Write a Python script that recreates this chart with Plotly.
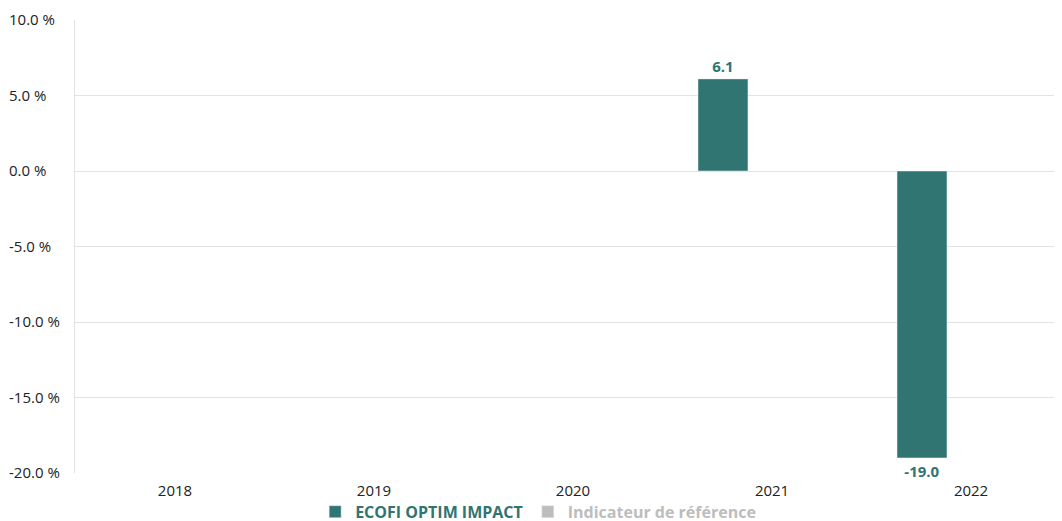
import plotly.graph_objects as go

years = ["2018", "2019", "2020", "2021", "2022"]
fund_values = [None, None, None, 6.1, -19.0]
benchmark_values = [None, None, None, None, None]
y_ticks = [-20, -15, -10, -5, 0, 5, 10]
y_tick_labels = [f"{v:.1f} %" for v in y_ticks]

TEAL = "#317572"
GREY = "#bdbdbd"

fig = go.Figure()
fig.add_trace(go.Bar(
    x=years, y=fund_values,
    name=f"<span style='color:{TEAL}'>ECOFI OPTIM IMPACT</span>",
    marker_color=TEAL, width=0.251, offset=-0.372,
    texttemplate="%{y:.1f}", textposition="outside",
    textfont=dict(family="Open Sans", size=15, color=TEAL, weight="bold"),
    cliponaxis=False,
))
fig.add_trace(go.Bar(
    x=years, y=benchmark_values,
    name=f"<span style='color:{GREY}'>Indicateur de référence</span>",
    marker_color=GREY, width=0.251, offset=-0.12,
))

# page body has an 8px default margin, so figure is sized to fit the window
fig.update_layout(
    width=1054, height=513,
    margin=dict(l=67, r=0, t=12, b=48, autoexpand=False),
    plot_bgcolor="white", paper_bgcolor="white",
    font=dict(family="Open Sans", size=15, color="#222222"),
    showlegend=True,
    legend=dict(
        orientation="h", xref="container", yref="container",
        x=0.503, xanchor="center", y=0.018, yanchor="middle",
        font=dict(family="Open Sans", size=16, weight="bold"),
        bgcolor="rgba(0,0,0,0)",
        itemclick=False, traceorder="normal",
        itemwidth=30, tracegroupgap=0,
    ),
)
fig.update_xaxes(
    type="category", range=[-0.5025, 4.457], automargin=False,
    showgrid=False, showline=False, ticks="", ticklabelstandoff=7,
    tickfont=dict(size=15, color="#222222"),
)
fig.update_yaxes(
    range=[-20, 10], tickvals=y_ticks, ticktext=y_tick_labels, automargin=False,
    showgrid=True, gridcolor="#e2e2e2", gridwidth=1,
    zeroline=True, zerolinecolor="#e2e2e2", zerolinewidth=1,
    showline=True, linecolor="#e2e2e2", linewidth=1,
    ticks="", ticklabelposition="inside", ticklabelstandoff=-66,
    ticklabeloverflow="allow",
    tickfont=dict(size=15, color="#222222"),
)

fig.write_html("out.html")
